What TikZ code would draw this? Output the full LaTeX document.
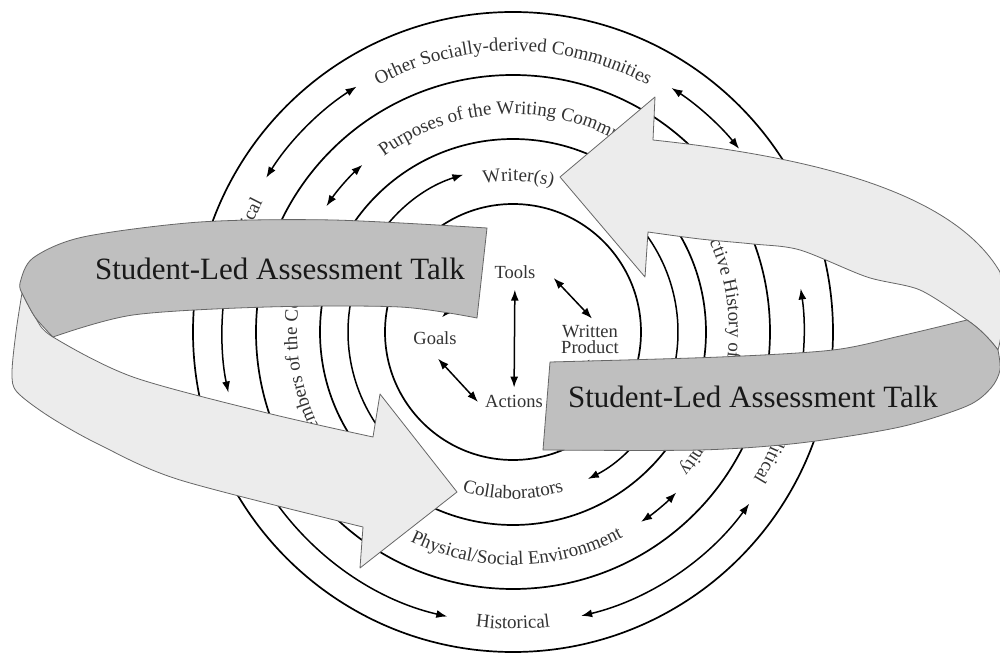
\documentclass[tikz,border=0pt]{standalone}
\usepackage{fontspec}
\setmainfont{Liberation Serif}
\usetikzlibrary{arrows.meta,decorations.text}

\definecolor{frontgray}{gray}{0.75}
\definecolor{backgray}{gray}{0.925}
\definecolor{inkgray}{gray}{0.2}
\newcommand{\ringfont}{\fontsize{19}{22}\selectfont}

\begin{document}
\begin{tikzpicture}[x=1pt,y=1pt,
  ringline/.style={line width=1.7pt},
  flow/.style={line width=1.5pt,-{Latex[length=11pt,width=8pt]}},
  twoway/.style={line width=1.5pt,{Latex[length=11pt,width=8pt]}-{Latex[length=11pt,width=8pt]}},
  partlabel/.style={font=\fontsize{18.5}{16}\selectfont,text=inkgray,align=center,inner sep=2pt},
  ringlabel/.style={decorate,decoration={text along path,text align=center,text color=inkgray,text={|\ringfont|#1}}},
  backface/.style={fill=backgray,draw=black!60,line width=0.8pt,line join=round},
  frontface/.style={fill=frontgray,draw=black!60,line width=0.8pt,line join=round},
  talk/.style={font=\fontsize{31}{36}\selectfont,text=black!90,anchor=base,inner sep=0pt}]
  \useasboundingbox (-513,-323) rectangle (487,332);
  \fill[white] (-513,-323) rectangle (487,332);
  \clip (-513,-323) rectangle (487,332);

  \foreach \r in {128,193,257,320}
    \draw[ringline] (0,0) circle[radius=\r];

  % outer ring
  \draw[twoway] (148:291) arc[start angle=148,end angle=122.5,radius=291];
  \draw[twoway] (57:291) arc[start angle=57,end angle=39,radius=291];
  \draw[flow] (172:291) arc[start angle=172,end angle=192,radius=291];
  \draw[flow] (-12:291) arc[start angle=-12,end angle=8.6,radius=291];
  \draw[twoway] (-76.5:292) arc[start angle=-76.5,end angle=-36,radius=292];
  \draw[flow] (212:292) arc[start angle=212,end angle=257,radius=292];
  \path[ringlabel={Other Socially-derived Communities}] (130:281) arc[start angle=130,end angle=50,radius=281];
  \path[ringlabel={Historical}] (240:297) arc[start angle=240,end angle=300,radius=297];
  \path[ringlabel={Political},decoration={text align=right}] (195:282) arc[start angle=195,end angle=152.5,radius=282];
  \path[ringlabel={Political},decoration={text align=right}] (15:282) arc[start angle=15,end angle=-31.5,radius=282];

  % community ring
  \draw[twoway] (146:225) arc[start angle=146,end angle=132,radius=225];
  \draw[twoway] (-56:229) arc[start angle=-56,end angle=-44.5,radius=229];
  \path[ringlabel={Purposes of the Writing Community}] (140:218) arc[start angle=140,end angle=40,radius=218];
  \path[ringlabel={Physical/Social Environment}] (226:233) arc[start angle=226,end angle=316,radius=233];
  \path[ringlabel={Members of the Community}] (227:216) arc[start angle=227,end angle=137,radius=216];
  \path[ringlabel={Collective History of the Community}] (43:216) arc[start angle=43,end angle=-47,radius=216];

  % writer ring
  \draw[flow] (222:165) arc[start angle=222,end angle=107.5,radius=165];
  \draw[flow] (40:165) arc[start angle=40,end angle=-63,radius=165];
  \path[ringlabel={Writer(s)}] (113:151) arc[start angle=113,end angle=63,radius=151];
  \path[ringlabel={Collaborators}] (245:167) arc[start angle=245,end angle=295,radius=167];

  % centre
  \node[partlabel] (tools) at (2,60) {Tools};
  \node[partlabel] (goals) at (-78,-6) {Goals};
  \node[partlabel] (written) at (77,-7) {Written\\Product};
  \node[partlabel] (actions) at (1,-69) {Actions};
  \draw[twoway,shorten <=9pt,shorten >=5pt] (tools) -- (actions);
  \draw[twoway] ([shift={(16pt,-6pt)}]tools.east) -- ([shift={(2pt,4pt)}]written.north);
  \draw[twoway] ([shift={(3pt,-12pt)}]goals.south) -- ([shift={(-5pt,-1pt)}]actions.west);
  \draw[twoway] ([shift={(7pt,12pt)}]goals.north) -- ([shift={(-20pt,-15pt)}]tools.west);
  \draw[twoway] ([shift={(0pt,-4pt)}]written.south) -- ([shift={(4pt,2pt)}]actions.east);

  % left ribbon
  \draw[backface] (-491,39) -- plot[smooth] coordinates {(-491,39) (-497,0) (-501,-41) (-496,-60) (-463,-85) (-413,-113) (-333,-148) (-150,-195)}
    -- (-153,-236) -- (-56,-160) -- (-133,-62) -- (-140,-105)
    -- plot[smooth] coordinates {(-140,-105) (-246,-81) (-380,-45) (-460,-5) (-478,15) (-491,39)} -- cycle;
  \draw[frontface] (-26,104) -- plot[smooth] coordinates {(-26,104) (-180,112) (-313,110) (-430,95) (-480,74) (-493,49) (-491,39)}
    -- plot[smooth] coordinates {(-491,39) (-478,15) (-460,-5)}
    -- plot[smooth] coordinates {(-460,-5) (-380,17) (-246,25) (-113,25) (-36,14)} -- cycle;
  \node[talk] (talkleft) at (-233,52) {Student-Led Assessment Talk};

  % right ribbon
  \draw[backface] (47,155) -- (142,235) -- (140,192)
    .. controls (300,175) and (440,140) .. (487,60)
    .. controls (492,30) and (490,0) .. (485,-18)
    .. controls (476,-6) and (466,4) .. (454,12)
    -- plot[smooth] coordinates {(454,12) (407,42) (354,55) (287,82) (240,88) (187,93) (135,100)}
    -- (132,55) -- cycle;
  \draw[frontface] (37,-30) -- plot[smooth] coordinates {(37,-30) (207,-25) (320,-18) (387,-4) (454,12)}
    .. controls (466,4) and (476,-6) .. (485,-18)
    -- plot[smooth] coordinates {(485,-18) (487,-38) (478,-56) (454,-74) (387,-95) (287,-111) (187,-118) (30,-118)} -- cycle;
  \node[talk] (talkright) at (240,-75) {Student-Led Assessment Talk};
\end{tikzpicture}
\end{document}
